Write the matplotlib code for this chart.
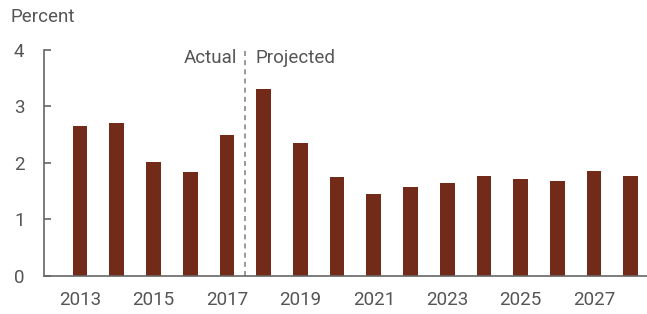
import matplotlib
matplotlib.use("Agg")
import matplotlib.pyplot as plt

years = list(range(2013, 2029))
values = [2.65, 2.70, 2.02, 1.83, 2.49, 3.30, 2.35, 1.75, 1.45, 1.58, 1.64, 1.76, 1.72, 1.68, 1.85, 1.77]
xtick_labels = ["2013", "2015", "2017", "2019", "2021", "2023", "2025", "2027"]
yticks = [0, 1, 2, 3, 4]

plt.rcParams['font.family'] = ['Roboto', 'DejaVu Sans']
text_color = '#555555'
bar_color = '#722A19'
fs = 13.5

fig = plt.figure(figsize=(6.47, 3.14), dpi=100)
W, H = 647, 314
ax = fig.add_axes([44 / W, 1 - 275.7 / H, (647 - 44) / W, (275.7 - 50) / H])

x = list(range(len(years)))
ax.bar(x, values, width=0.4, color=bar_color, zorder=2)

ax.set_xlim(-0.98, 15.44)
ax.set_ylim(0, 4)
ax.set_yticks(yticks)
ax.set_yticklabels([str(v) for v in yticks])
ax.set_xticks([years.index(int(l)) for l in xtick_labels])
ax.set_xticklabels(xtick_labels)

for s in ['top', 'right']:
    ax.spines[s].set_visible(False)
for s in ['left', 'bottom']:
    ax.spines[s].set_color('#666666')
    ax.spines[s].set_linewidth(1.2)

ax.tick_params(axis='y', direction='in', length=5, width=1.2, color='#666666',
               labelsize=fs, labelcolor=text_color, pad=14)
ax.tick_params(axis='x', length=0, labelsize=fs, labelcolor=text_color, pad=11)

ax.axvline(4.5, color='#888888', linestyle=(0, (3, 2.5)), linewidth=1.2, ymax=1.01, clip_on=False)
ax.text(4.5 - 0.21, 3.86, "Actual", ha='right', va='center', fontsize=fs, color=text_color)
ax.text(4.5 + 0.28, 3.86, "Projected", ha='left', va='center', fontsize=fs, color=text_color)
fig.text(10 / W, 1 - 17 / H, "Percent", ha='left', va='center', fontsize=fs, color=text_color)

fig.savefig("out.png", dpi=100)
